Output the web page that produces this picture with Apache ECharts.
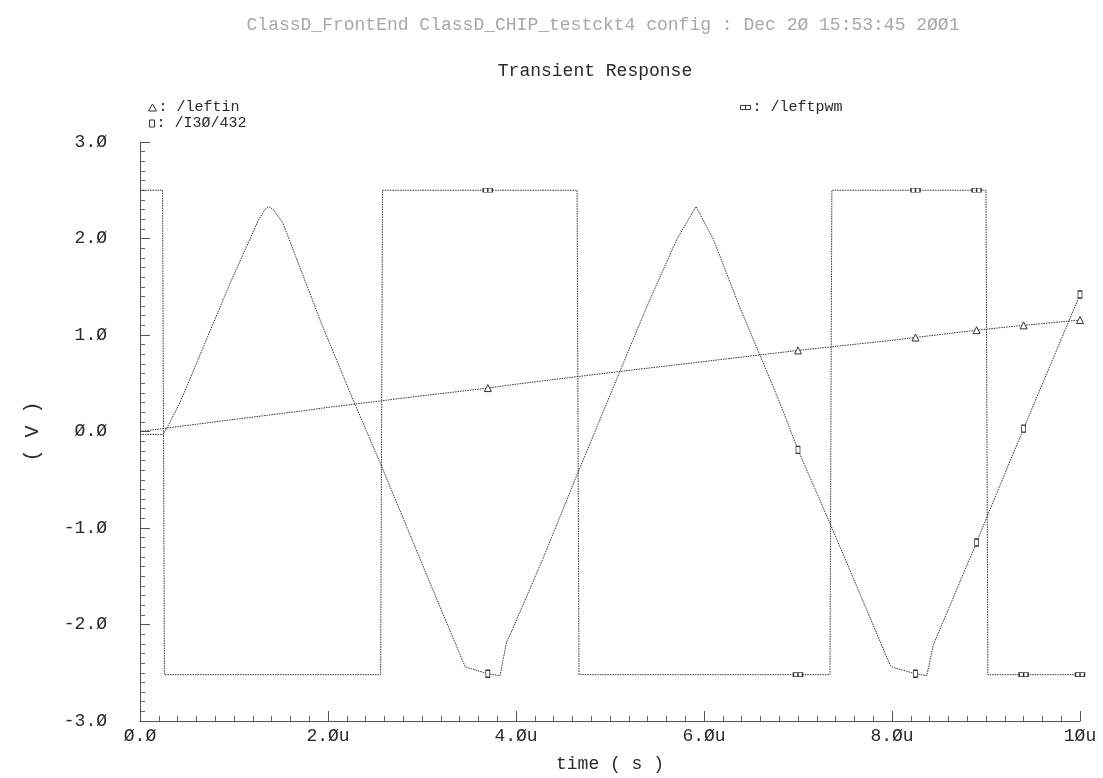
<!DOCTYPE html>
<html>
<head>
<meta charset="utf-8">
<script src="https://cdn.jsdelivr.net/npm/echarts@6/dist/echarts.min.js"></script>
<style>
  html, body { margin: 0; padding: 0; background: #fff; }
  #main { width: 1103px; height: 778px; }
</style>
</head>
<body>
<div id="main"></div>
<script>
// time in us, values in V
var leftinT = [0, 1, 1.7, 2, 3, 3.7, 4, 5, 6, 7, 8, 8.25, 8.9, 9, 9.4, 10];
var leftinV = [0.0, 0.125, 0.21, 0.25, 0.37, 0.45, 0.49, 0.61, 0.725, 0.84, 0.945, 0.974, 1.05, 1.06, 1.10, 1.155];

var triT = [0, 0.245, 0.3, 0.43, 0.96, 1.26, 1.33, 1.37, 1.42, 1.52, 1.93, 2.27, 2.57, 3.03, 3.46, 3.7, 3.83, 3.9, 3.94,
            4.29, 4.64, 5.39, 5.71, 5.915, 6.1, 6.38, 6.81, 7.0, 7.34, 7.98, 8.01, 8.25, 8.37, 8.44, 8.9, 9.02, 9.4, 9.72, 10];
var triV = [-0.03, -0.03, 0.06, 0.31, 1.54, 2.19, 2.3, 2.33, 2.3, 2.16, 1.12, 0.32, -0.36, -1.44, -2.44, -2.51, -2.53, -2.18, -2.1,
            -1.31, -0.47, 1.29, 1.99, 2.33, 1.99, 1.29, 0.29, -0.19, -0.95, -2.42, -2.445, -2.51, -2.53, -2.21, -1.15, -0.86, 0.03, 0.77, 1.42];

var pwmT = [0, 0.24, 0.26, 2.56, 2.58, 3.7, 4.65, 4.67, 7.0, 7.34, 7.36, 8.25, 8.9, 9.0, 9.02, 9.4, 10];
var pwmV = [2.5, 2.5, -2.52, -2.52, 2.5, 2.5, 2.5, -2.52, -2.52, -2.52, 2.5, 2.5, 2.5, 2.5, -2.52, -2.52, -2.52];

var markT = [3.7, 7.0, 8.25, 8.9, 9.4, 10];

var xTickLabels = ['Ø.Ø', '2.Øu', '4.Øu', '6.Øu', '8.Øu', '1Øu'];
var yTickLabels = ['-3.Ø', '-2.Ø', '-1.Ø', 'Ø.Ø', '1.Ø', '2.Ø', '3.Ø'];

var FONT = "'Liberation Mono', 'DejaVu Sans Mono', monospace";
var INK = '#333';
var TXT = '#2a2a2a';

function build(ts, vs, sym) {
  return ts.map(function (t, i) {
    return { value: [t, vs[i]], symbol: markT.indexOf(t) >= 0 ? sym : 'none' };
  });
}

var pwmIcon = 'path://M0,0 L12,0 L12,5 L0,5 Z M6,0 L6,5';
var hollow = { color: '#fff', borderColor: INK, borderWidth: 1 };
var legendText = { fontFamily: FONT, fontSize: 15, color: TXT, padding: [0, 0, 0, -3] };

var dom = document.getElementById('main');
var myChart = echarts.init(dom);
var option = {
  animation: false,
  title: [
    {
      text: 'ClassD_FrontEnd ClassD_CHIP_testckt4 config : Dec 2Ø 15:53:45 2ØØ1',
      left: 598, top: 11, textAlign: 'center',
      textStyle: { fontFamily: FONT, fontSize: 18, fontWeight: 'normal', color: '#a8a8a8' }
    },
    {
      text: 'Transient Response',
      left: 590, top: 57, textAlign: 'center',
      textStyle: { fontFamily: FONT, fontSize: 18, fontWeight: 'normal', color: TXT }
    }
  ],
  legend: [
    {
      data: ['/leftin'], left: 143, top: 95, icon: 'triangle', itemWidth: 8, itemHeight: 7,
      itemStyle: hollow, formatter: ': {name}', textStyle: legendText
    },
    {
      data: ['/I3Ø/432'], left: 144, top: 111, icon: 'rect', itemWidth: 5, itemHeight: 7,
      itemStyle: hollow, formatter: ': {name}', textStyle: legendText
    },
    {
      data: ['/leftpwm'], left: 735, top: 95, icon: pwmIcon, itemWidth: 10, itemHeight: 5,
      itemStyle: hollow, formatter: ': {name}', textStyle: legendText
    }
  ],
  grid: { left: 140, right: 23, top: 142, bottom: 53 },
  xAxis: {
    type: 'value', min: 0, max: 10, interval: 2,
    name: 'time ( s )', nameLocation: 'middle', nameGap: 34,
    nameTextStyle: { fontFamily: FONT, fontSize: 18, color: TXT },
    axisLine: { show: true, onZero: false, lineStyle: { color: '#555', width: 1 } },
    axisTick: { show: true, inside: true, length: 10, lineStyle: { color: '#555' } },
    minorTick: { show: true, splitNumber: 10, length: 5, lineStyle: { color: '#666' } },
    splitLine: { show: false },
    axisLabel: {
      margin: 6, fontFamily: FONT, fontSize: 18, color: TXT,
      formatter: function (v) { return xTickLabels[Math.round(v / 2)]; }
    }
  },
  yAxis: {
    type: 'value', min: -3, max: 3, interval: 1,
    name: '( V )', nameLocation: 'middle', nameGap: 97, nameRotate: 90,
    nameTextStyle: { fontFamily: FONT, fontSize: 20, color: TXT },
    axisLine: { show: true, onZero: false, lineStyle: { color: '#555', width: 1 } },
    axisTick: { show: true, inside: true, length: 10, lineStyle: { color: '#555' } },
    minorTick: { show: true, splitNumber: 10, length: 5, lineStyle: { color: '#666' } },
    splitLine: { show: false },
    axisLabel: {
      margin: 33, fontFamily: FONT, fontSize: 18, color: TXT, padding: [0, 0, 6, 0],
      formatter: function (v) { return yTickLabels[Math.round(v + 3)]; }
    }
  },
  series: [
    {
      name: '/leftin', type: 'line', data: build(leftinT, leftinV, 'triangle'),
      symbolSize: 7, showSymbol: true, itemStyle: hollow,
      lineStyle: { color: INK, width: 1, type: [1.5, 1] }
    },
    {
      name: '/I3Ø/432', type: 'line', data: build(triT, triV, 'rect'),
      symbolSize: [4, 7], showSymbol: true, itemStyle: hollow,
      lineStyle: { color: INK, width: 1, type: [1.5, 1] }
    },
    {
      name: '/leftpwm', type: 'line', data: build(pwmT, pwmV, pwmIcon),
      symbolSize: [9, 4], showSymbol: true, itemStyle: hollow,
      lineStyle: { color: INK, width: 1, type: [1.5, 1] }
    }
  ]
};

if (option && typeof option === 'object') {
  myChart.setOption(option);
}
</script>
</body>
</html>
